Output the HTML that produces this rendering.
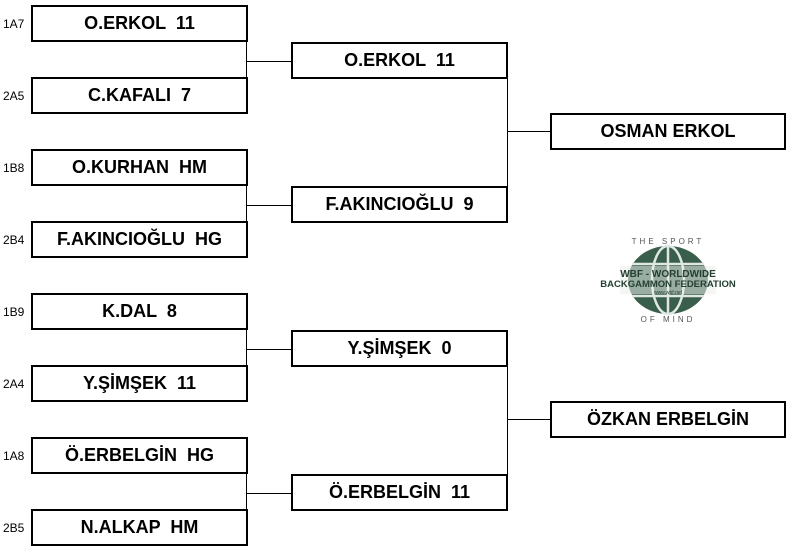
<!DOCTYPE html>
<html><head><meta charset="utf-8"><style>
body{margin:0;width:789px;height:551px;background:#fff;position:relative;overflow:hidden;font-family:"Liberation Sans",Arial,sans-serif}
.b{position:absolute;box-sizing:border-box;border:2px solid #000;background:#fff;font-weight:bold;font-size:18px;text-align:center;white-space:pre;display:flex;align-items:center;justify-content:center}
.c1{left:31px;width:217px;height:37px}
.c2{left:291px;width:217px;height:37px}
.c3{left:550px;width:236px;height:37px}
.l{position:absolute;left:3px;font-size:12px}
.h{position:absolute;height:1px;background:#000}
.v{position:absolute;width:1px;background:#000}
</style></head><body>
<div class="l" style="top:17px">1A7</div>
<div class="l" style="top:89px">2A5</div>
<div class="l" style="top:161px">1B8</div>
<div class="l" style="top:233px">2B4</div>
<div class="l" style="top:305px">1B9</div>
<div class="l" style="top:377px">2A4</div>
<div class="l" style="top:449px">1A8</div>
<div class="l" style="top:521px">2B5</div>

<div class="v" style="left:246px;top:42px;height:36px"></div>
<div class="h" style="left:247px;top:61px;width:44px"></div>
<div class="v" style="left:246px;top:186px;height:36px"></div>
<div class="h" style="left:247px;top:205px;width:44px"></div>
<div class="v" style="left:246px;top:330px;height:36px"></div>
<div class="h" style="left:247px;top:349px;width:44px"></div>
<div class="v" style="left:246px;top:474px;height:36px"></div>
<div class="h" style="left:247px;top:493px;width:44px"></div>

<div class="v" style="left:507px;top:78px;height:109px"></div>
<div class="h" style="left:507px;top:131px;width:43px"></div>
<div class="v" style="left:507px;top:366px;height:109px"></div>
<div class="h" style="left:507px;top:419px;width:43px"></div>

<div class="b c1" style="top:5px">O.ERKOL  11</div>
<div class="b c1" style="top:77px">C.KAFALI  7</div>
<div class="b c1" style="top:149px">O.KURHAN  HM</div>
<div class="b c1" style="top:221px">F.AKINCIOĞLU  HG</div>
<div class="b c1" style="top:293px">K.DAL  8</div>
<div class="b c1" style="top:365px">Y.ŞİMŞEK  11</div>
<div class="b c1" style="top:437px">Ö.ERBELGİN  HG</div>
<div class="b c1" style="top:509px">N.ALKAP  HM</div>

<div class="b c2" style="top:42px">O.ERKOL  11</div>
<div class="b c2" style="top:186px">F.AKINCIOĞLU  9</div>
<div class="b c2" style="top:330px">Y.ŞİMŞEK  0</div>
<div class="b c2" style="top:474px">Ö.ERBELGİN  11</div>

<div class="b c3" style="top:113px">OSMAN ERKOL</div>
<div class="b c3" style="top:401px">ÖZKAN ERBELGİN</div>

<svg style="position:absolute;left:600px;top:232px" width="140" height="92" viewBox="0 0 140 92">
<text x="68" y="12" font-size="8" fill="#555" text-anchor="middle" font-family="Liberation Sans" letter-spacing="3">THE SPORT</text>
<ellipse cx="68" cy="48" rx="40" ry="34" fill="#3a5e4c"/>
<g stroke="#dfe8e2" stroke-width="2.5" fill="none">
<ellipse cx="68" cy="48" rx="16" ry="34"/>
<line x1="68" y1="14" x2="68" y2="82"/>
<line x1="32" y1="32" x2="104" y2="32"/>
<line x1="32" y1="64" x2="104" y2="64"/>
</g>
<rect x="20" y="34" width="96" height="28" fill="#e9efe9" opacity="0.55"/>
<text x="68" y="45" font-size="10" font-weight="bold" fill="#243f32" text-anchor="middle" font-family="Liberation Sans">WBF - WORLDWIDE</text>
<text x="68" y="55" font-size="9.5" font-weight="bold" fill="#243f32" text-anchor="middle" font-family="Liberation Sans">BACKGAMMON FEDERATION</text>
<text x="68" y="62" font-size="5" fill="#243f32" text-anchor="middle" font-family="Liberation Sans">www.wbf.net</text>
<text x="68" y="90" font-size="8" fill="#555" text-anchor="middle" font-family="Liberation Sans" letter-spacing="3">OF MIND</text>
</svg>
</body></html>
